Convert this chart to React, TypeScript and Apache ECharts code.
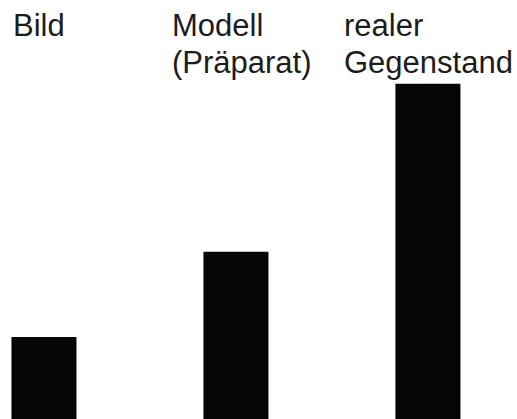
import React, { useEffect, useRef } from "react";
import * as echarts from "echarts";

const categories = ["Bild", "Modell\n(Präparat)", "realer\nGegenstand"];
const values = [19.6, 39.9, 80];
const positions = [0, 1, 2];

export default function App() {
  const ref = useRef<HTMLDivElement>(null);
  useEffect(() => {
    if (!ref.current) return;
    const chart = echarts.init(ref.current, null, { renderer: "svg" });
    const font = '31px "Liberation Sans", Arial, sans-serif';
    const labelX = [13, 172, 344];
    chart.setOption({
      animation: false,
      backgroundColor: "#ffffff",
      grid: { left: 0, right: 0, top: 0, bottom: 0 },
      xAxis: {
        type: "value",
        min: -0.229,
        max: 2.464,
        show: false,
      },
      yAxis: { type: "value", min: 0, max: 100, show: false },
      series: [
        {
          type: "bar",
          data: positions.map((p, i) => [p, values[i]]),
          barWidth: 65,
          itemStyle: { color: "#060606" },
        },
      ],
      graphic: categories.map((c, i) => ({
        type: "text",
        left: labelX[i],
        top: 7,
        style: {
          text: c,
          font,
          lineHeight: 37,
          fill: "#1c1c1c",
        },
      })),
    });
    return () => chart.dispose();
  }, []);
  return (
    <div
      ref={ref}
      style={{ position: "fixed", left: 0, top: 0, width: 517, height: 419, background: "#fff" }}
    />
  );
}
